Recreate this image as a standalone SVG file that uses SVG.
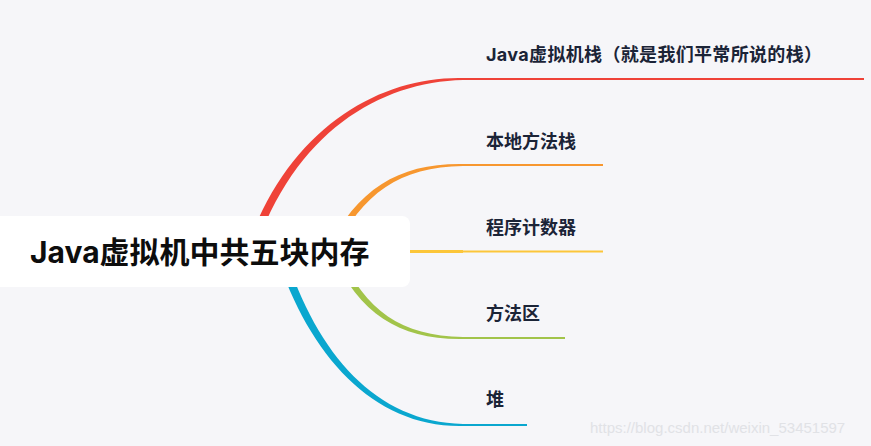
<svg xmlns="http://www.w3.org/2000/svg" width="871" height="446" viewBox="0 0 871 446">
<style>
.lbl{font-family:Inter,"Noto Sans CJK SC",sans-serif;font-weight:bold;font-size:18px;fill:#1b2437}
.root{font-family:Inter,"Noto Sans CJK SC",sans-serif;font-weight:bold;font-size:30px;fill:#0d0d0d}
.ln{fill:none;stroke-width:2}
</style>
<rect width="871" height="446" fill="#f6f6f9"/>
<g id="connectors">
<path d="M254,253.2 C294,132 380,82 463,80 L463,78 C380,76 287,128 246,250.8 Z" fill="#ef4238"/>
<line class="ln" x1="463" y1="79" x2="864" y2="79" stroke="#ef4238"/>
<path d="M333.2,253.5 C362.5,192.2 400,167 463,166 L463,164 C400,163 357.5,187.8 326.8,250.5 Z" fill="#f7972f"/>
<line class="ln" x1="463" y1="165" x2="603" y2="165" stroke="#f7972f"/>
<line x1="400" y1="251.5" x2="463" y2="251.5" stroke="#fcc63a" stroke-width="3"/>
<line class="ln" x1="463" y1="251.5" x2="603" y2="251.5" stroke="#fcc63a"/>
<path d="M338.2,250.6 C364.5,309.8 400,336 463,337 L463,339 C400,340 359.5,314.2 331.8,253.4 Z" fill="#a2c44a"/>
<line class="ln" x1="463" y1="338" x2="565" y2="338" stroke="#a2c44a"/>
<path d="M284,250.8 C316,353 375,422 463,424 L463,426 C375,428 309,357 276,253.2 Z" fill="#0aa7cf"/>
<line class="ln" x1="463" y1="425" x2="527" y2="425" stroke="#0aa7cf"/>
</g>
<g id="root">
<rect x="-20" y="216" width="430" height="71" rx="8" fill="#ffffff"/>
<text class="root" x="30" y="263">Java虚拟机中共五块内存</text>
</g>
<g id="n1"><text class="lbl" x="486" y="61" textLength="336" lengthAdjust="spacing">Java虚拟机栈（就是我们平常所说的栈）</text></g>
<g id="n2"><text class="lbl" x="486" y="148">本地方法栈</text></g>
<g id="n3"><text class="lbl" x="486" y="234">程序计数器</text></g>
<g id="n4"><text class="lbl" x="486" y="320">方法区</text></g>
<g id="n5"><text class="lbl" x="486" y="406">堆</text></g>
<text x="590" y="433" font-family="Liberation Sans,sans-serif" font-size="15" fill="#e1e2e6">https://blog.csdn.net/weixin_53451597</text>
</svg>
